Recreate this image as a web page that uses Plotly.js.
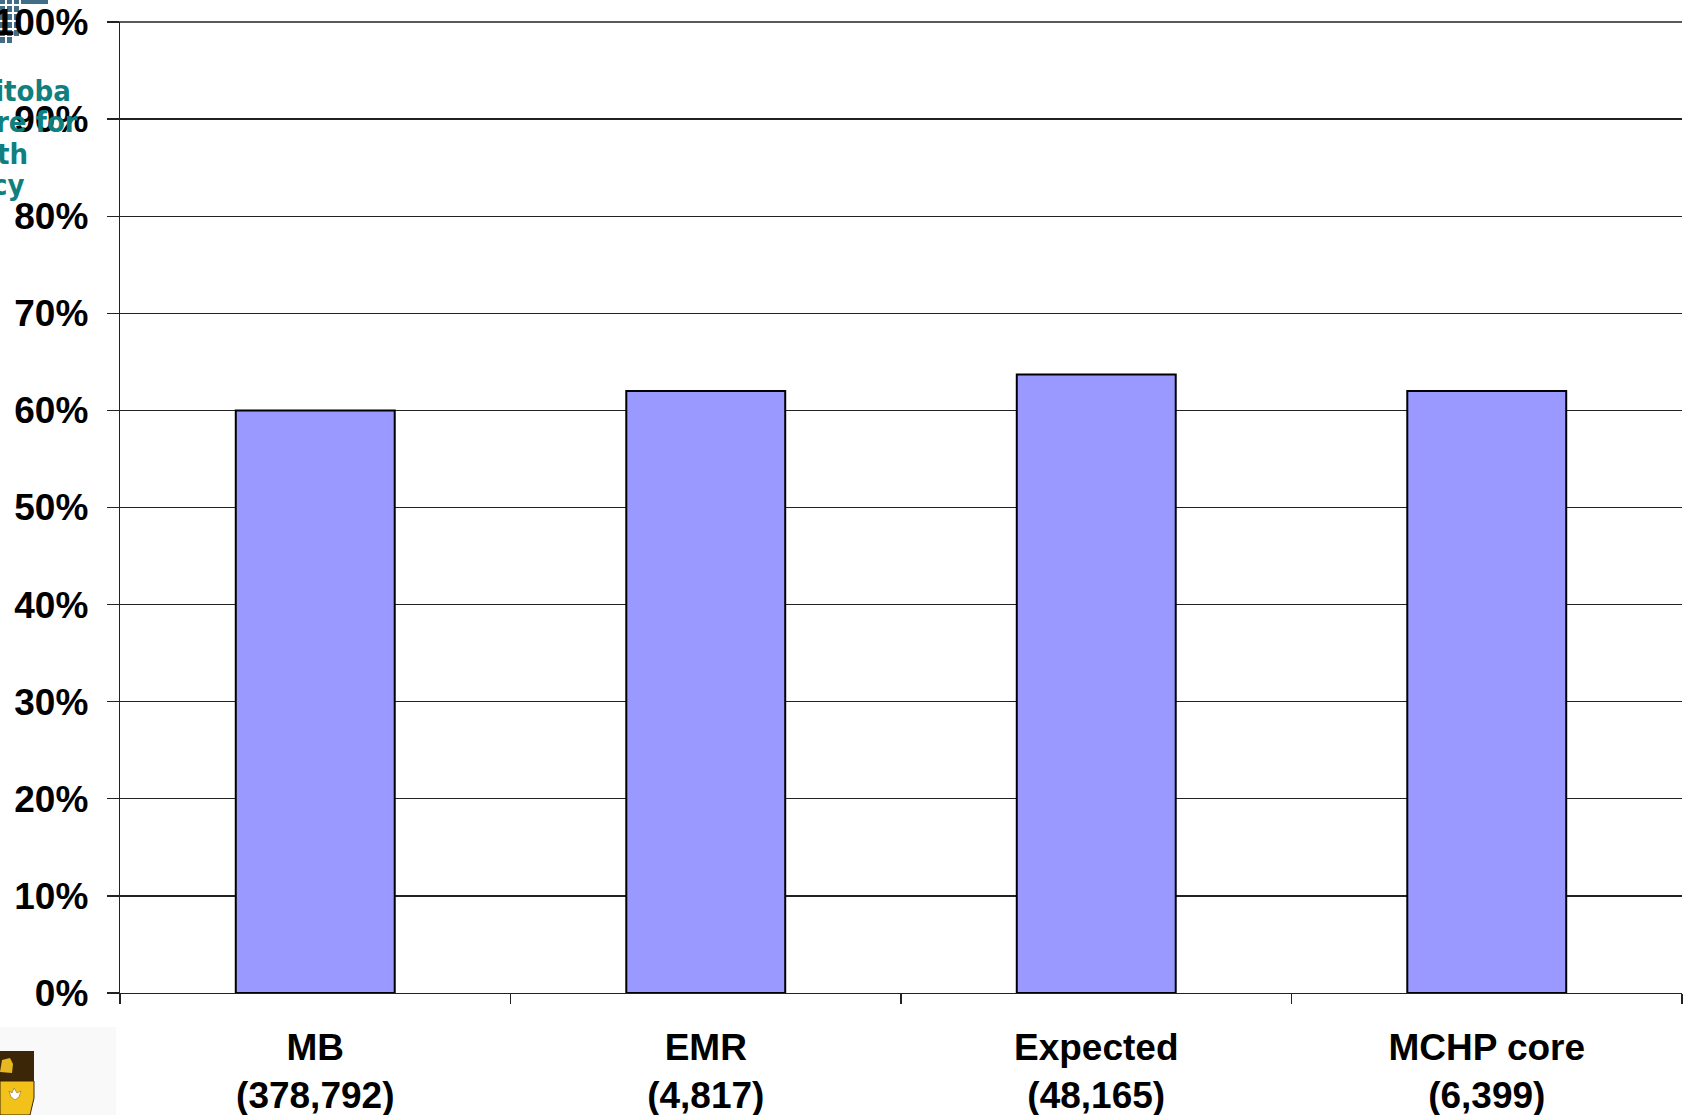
<!DOCTYPE html>
<html>
<head>
<meta charset="utf-8">
<script src="https://cdn.plot.ly/plotly-3.0.1.min.js"></script>
<style>
html,body{margin:0;padding:0;background:#fff;}
#chart{width:1686px;height:1115px;}
</style>
</head>
<body>
<div id="chart"></div>
<script>
// ---- data ----
var categories = ["MB", "EMR", "Expected", "MCHP core"];
var counts = ["(378,792)", "(4,817)", "(48,165)", "(6,399)"];
var percents = [60, 62, 63.7, 62];
var yTickValues = [0, 10, 20, 30, 40, 50, 60, 70, 80, 90, 100];
var logoLines = ["Manitoba", "Centre for", "Health", "Policy"];

// ---- layout geometry ----
var W = 1686, H = 1115;
var L = 120, R = 4, T = 22, B = 122;
var PW = W - L - R, PH = H - T - B;
function px(x){ return (x - L) / PW; }
function py(y){ return (H - B - y) / PH; }

var tickText = categories.map(function(c, i){ return c + "<br>" + counts[i]; });

var trace = {
  type: "bar",
  x: categories,
  y: percents,
  marker: {color: "#9999FF", line: {color: "#000000", width: 2}},
  hoverinfo: "none"
};

var shapes = [];
// MCHP logo squares (partially cut at left edge)
var cols = [[0,5],[7,12],[14,19]];
var rows = [[0,4],[6,12],[14,20],[22,28],[30,36],[37,43]];
rows.forEach(function(r, ri){
  cols.forEach(function(c, ci){
    if (ri === 5 && ci === 2) return;
    shapes.push({type:"rect", xref:"paper", yref:"paper", layer:"below",
      x0:px(c[0]), x1:px(c[1]), y0:py(r[1]), y1:py(r[0]),
      fillcolor:"#426d86", line:{width:0}});
  });
});
shapes.push({type:"rect", xref:"paper", yref:"paper", layer:"below",
  x0:px(21), x1:px(48), y0:py(4), y1:py(0), fillcolor:"#426d86", line:{width:0}});
// University shield background box
shapes.push({type:"rect", xref:"paper", yref:"paper", layer:"below",
  x0:px(0), x1:px(116), y0:py(1115), y1:py(1027), fillcolor:"#f9f9f9", line:{width:0}});
// shield top (dark brown)
shapes.push({type:"rect", xref:"paper", yref:"paper",
  x0:px(0), x1:px(34), y0:py(1081), y1:py(1051), fillcolor:"#3b2707", line:{width:0}});
// shield bottom (gold)
shapes.push({type:"path", xref:"paper", yref:"paper",
  path:"M "+px(0)+","+py(1081)+" L "+px(34)+","+py(1081)+" L "+px(34)+","+py(1098)+
       " L "+px(30)+","+py(1115)+" L "+px(0)+","+py(1115)+" Z",
  fillcolor:"#f2c21a", line:{color:"#3b2707", width:1}});
// gold bison hint on brown
shapes.push({type:"path", xref:"paper", yref:"paper",
  path:"M "+px(0)+","+py(1072)+" L "+px(2)+","+py(1060)+" L "+px(10)+","+py(1058)+
       " L "+px(13)+","+py(1064)+" L "+px(12)+","+py(1073)+" Z",
  fillcolor:"#e7b722", line:{width:0}});
// maple leaf hint
shapes.push({type:"path", xref:"paper", yref:"paper",
  path:"M "+px(14)+","+py(1088)+" L "+px(17)+","+py(1093)+" L "+px(21)+","+py(1091)+
       " L "+px(19)+","+py(1097)+" L "+px(15)+","+py(1100)+" L "+px(11)+","+py(1097)+
       " L "+px(9)+","+py(1091)+" L "+px(12)+","+py(1093)+" Z",
  fillcolor:"#ffffff", line:{color:"#8a6a20", width:0.6}});
// top gridline at 100%
shapes.push({type:"line", xref:"paper", yref:"paper", layer:"below",
  x0:px(108), x1:1, y0:1, y1:1, line:{color:"#222", width:1.3}});

// MCHP logo words, cut off by the left edge (right ends placed as in the reference)
var annotations = [];
var logoY = [91, 122, 154, 185];
var logoRight = [73, 80, 30, 26];
logoLines.forEach(function(t, i){
  annotations.push({
    xref:"paper", yref:"paper", x:px(logoRight[i]), y:py(logoY[i]),
    xanchor:"right", yanchor:"middle", showarrow:false, text:t,
    font:{family:"DejaVu Sans Condensed, sans-serif", size:29, color:"#0f7f7f", weight:"bold"}
  });
});

var layout = {
  width: W, height: H,
  margin: {l: L, r: R, t: T, b: B, pad: 0},
  paper_bgcolor: "#ffffff",
  plot_bgcolor: "#ffffff",
  showlegend: false,
  bargap: 0.593,
  font: {family: "Liberation Sans, Arial, sans-serif", color: "#000"},
  xaxis: {
    type: "category",
    tickvals: categories,
    ticktext: tickText,
    tickson: "boundaries",
    ticks: "outside",
    ticklen: 10,
    tickwidth: 1.3,
    tickcolor: "#222",
    showline: true,
    linecolor: "#222",
    linewidth: 1.3,
    showgrid: false,
    ticklabelstandoff: 21,
    tickfont: {family: "Liberation Sans, Arial, sans-serif", size: 37, color: "#000", weight: "bold"}
  },
  yaxis: {
    range: [0, 100],
    tickmode: "array",
    tickvals: yTickValues,
    ticktext: yTickValues.map(function(v){ return v + "%"; }),
    ticks: "outside",
    ticklen: 12,
    tickwidth: 1.3,
    tickcolor: "#222",
    showline: true,
    linecolor: "#222",
    linewidth: 1.3,
    showgrid: true,
    gridcolor: "#222",
    gridwidth: 1.3,
    zeroline: false,
    ticklabelstandoff: 11,
    tickfont: {family: "Liberation Sans, Arial, sans-serif", size: 37, color: "#000", weight: "bold"}
  },
  shapes: shapes,
  annotations: annotations
};

Plotly.newPlot("chart", [trace], layout, {displayModeBar: false, staticPlot: true});
</script>
</body>
</html>
